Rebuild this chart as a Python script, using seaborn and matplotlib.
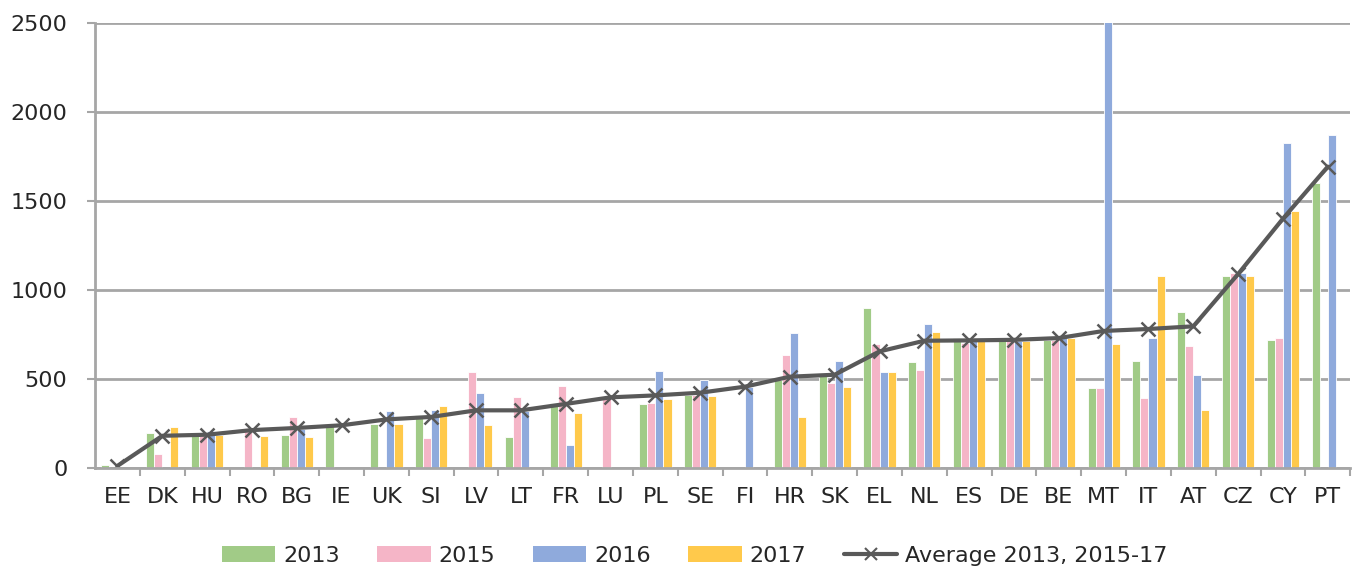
import numpy as np
import pandas as pd
import seaborn as sns
import matplotlib.pyplot as plt
from matplotlib.patches import Patch
from matplotlib.lines import Line2D
from matplotlib.ticker import MultipleLocator

# data
countries = ['EE', 'DK', 'HU', 'RO', 'BG', 'IE', 'UK', 'SI', 'LV', 'LT', 'FR', 'LU', 'PL', 'SE',
             'FI', 'HR', 'SK', 'EL', 'NL', 'ES', 'DE', 'BE', 'MT', 'IT', 'AT', 'CZ', 'CY', 'PT']
nan = np.nan
v2013 = [15, 198, 180, nan, 185, 234, 249, 298, nan, 172, 365, nan, 360, 408,
         nan, 494, 534, 899, 594, 730, 715, 719, 448, 601, 878, 1080, 719, 1601]
v2015 = [nan, 79, 180, 225, 288, nan, nan, 170, 539, 399, 462, 393, 365, 408,
         nan, 637, 478, 699, 549, 700, 715, 721, 448, 391, 685, 1094, 729, nan]
v2016 = [nan, nan, 206, nan, 219, nan, 320, 326, 421, 322, 127, nan, 543, 494,
         457, 760, 601, 537, 811, 719, 715, 729, 2600, 729, 521, 1094, 1826, 1871]
v2017 = [nan, 230, 185, 180, 174, nan, 249, 348, 240, nan, 311, nan, 389, 404,
         nan, 287, 453, 537, 766, 719, 715, 729, 699, 1080, 328, 1080, 1442, nan]
average = [12, 181, 187, 213, 225, 240, 273, 287, 324, 324, 360, 397, 408, 423,
           457, 513, 524, 655, 715, 717, 720, 730, 770, 781, 796, 1090, 1401, 1693]
years = ['2013', '2015', '2016', '2017']

colors = ['#A1CB87', '#F5B5C7', '#8FAADC', '#FFC94B']
line_col = '#595959'
grid_col = '#A6A6A6'

rows = []
for yr, vals in zip(years, [v2013, v2015, v2016, v2017]):
    for c, v in zip(countries, vals):
        rows.append({'country': c, 'year': yr, 'value': v})
df = pd.DataFrame(rows)
avg_df = pd.DataFrame({'country': countries, 'avg': average})

sns.set_style('white')
plt.rcParams['font.family'] = ['DejaVu Sans']

fig = plt.figure(figsize=(13.54, 5.72), dpi=100)
ax = fig.add_axes([0.0702, 0.1818, 0.927, 0.778])

sns.barplot(data=df, x='country', y='value', hue='year', order=countries, hue_order=years,
            palette=colors, saturation=1, width=0.72, errorbar=None, edgecolor='white',
            linewidth=0.6, legend=False, ax=ax)
sns.pointplot(data=avg_df, x='country', y='avg', order=countries, color=line_col,
              markers='x', markersize=10, linewidth=3, errorbar=None, ax=ax)
for l in ax.lines:
    l.set_markeredgewidth(1.8)

ax.set_ylim(0, 2500)
ax.set_xlim(-0.5, len(countries) - 0.5)
ax.yaxis.set_major_locator(MultipleLocator(500))
ax.grid(axis='y', color=grid_col, linewidth=2)
ax.set_axisbelow(True)
for s in ['top', 'right']:
    ax.spines[s].set_visible(False)
for s in ['left', 'bottom']:
    ax.spines[s].set_color(grid_col)
    ax.spines[s].set_linewidth(2)
ax.set_xlabel('')
ax.set_ylabel('')

ax.set_xticks(np.arange(len(countries)) + 0.5, minor=True)
ax.tick_params(axis='x', which='major', length=0, labelsize=16, pad=14)
ax.tick_params(axis='x', which='minor', length=6, width=1.5, color=grid_col, direction='out', bottom=True)
ax.tick_params(axis='y', which='major', length=6, width=1.5, color=grid_col, direction='out',
               left=True, labelsize=16, pad=14)

handles = [Patch(facecolor=c, edgecolor='none') for c in colors]
handles.append(Line2D([], [], color=line_col, linewidth=3, marker='x', markersize=8,
                      markeredgewidth=1.5))
labels = years + ['Average 2013, 2015-17']
fig.legend(handles, labels, loc='center', bbox_to_anchor=(0.513, 0.028), ncol=5,
           frameon=False, fontsize=16, handlelength=2.4, handleheight=0.75,
           columnspacing=1.7, handletextpad=0.35)

fig.savefig('out.png', dpi=100)
